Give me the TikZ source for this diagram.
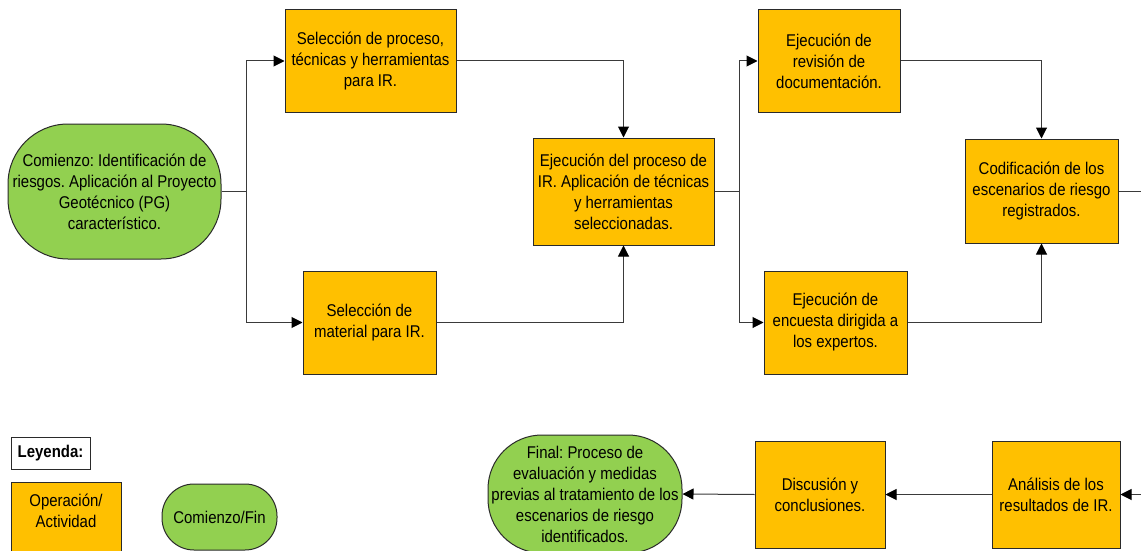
\documentclass[tikz,border=0pt]{standalone}
\usepackage{fontspec}
\setmainfont{Liberation Sans}[FakeStretch=0.88]
\usetikzlibrary{arrows.meta}
\frenchspacing
\definecolor{opfill}{HTML}{FFC000}
\definecolor{endfill}{HTML}{92D050}
\definecolor{edge}{HTML}{2A2A2A}
\definecolor{wire}{HTML}{3A3A3A}
\tikzset{
  base/.style={draw=edge, line width=1pt, inner sep=0pt, align=center,
               font=\fontsize{17}{21}\selectfont},
  opbox/.style={base, rectangle, fill=opfill},
  endbox/.style={base, rectangle, fill=endfill},
  legbox/.style={base, rectangle, fill=white, font=\fontsize{17}{21}\selectfont\bfseries},
  wireline/.style={draw=wire, line width=1pt},
  arr/.style={wireline, -{Triangle[length=11pt,width=11pt,fill=black,color=black]}},
}
\begin{document}
\begin{tikzpicture}[x=1pt,y=-1pt]
\clip (0,0) rectangle (1141,551);
\fill[white] (0,0) rectangle (1141,551);

% start / end terminals
\node[endbox, minimum width=213pt, minimum height=135pt, rounded corners=60pt] (com) at (114.5,191.5)
  {Comienzo: Identificación de\\riesgos. Aplicación al Proyecto\\Geotécnico (PG)\\característico.};
\node[endbox, minimum width=194pt, minimum height=118pt, rounded corners=54pt] (fin) at (585,494)
  {Final: Proceso de\\evaluación y medidas\\previas al tratamiento de los\\escenarios de riesgo\\identificados.};

% operations
\node[opbox, minimum width=171pt, minimum height=102pt] (sel1) at (370.5,61)
  {Selección de proceso,\\técnicas y herramientas\\para IR.};
\node[opbox, minimum width=133pt, minimum height=103pt] (sel2) at (369.5,322.5)
  {Selección de\\material para IR.};
\node[opbox, minimum width=181pt, minimum height=107pt] (ejec) at (623.5,191.5)
  {Ejecución del proceso de\\IR. Aplicación de técnicas\\y herramientas\\seleccionadas.};
\node[opbox, minimum width=142pt, minimum height=102pt] (rev) at (829,61)
  {Ejecución de\\revisión de\\documentación.};
\node[opbox, minimum width=143pt, minimum height=103pt] (enc) at (835.5,322.5)
  {Ejecución de\\encuesta dirigida a\\los expertos.};
\node[opbox, minimum width=153pt, minimum height=104pt] (cod) at (1041.5,191)
  {Codificación de los\\escenarios de riesgo\\registrados.};
\node[opbox, minimum width=128pt, minimum height=107pt] (ana) at (1056,494.5)
  {Análisis de los\\resultados de IR.};
\node[opbox, minimum width=130pt, minimum height=107pt] (disc) at (820,494.5)
  {Discusión y\\conclusiones.};

% legend
\node[legbox, minimum width=79pt, minimum height=32pt] (ley) at (50.5,453) {Leyenda:};
\node[opbox, minimum width=110pt, minimum height=72pt, text depth=14pt] (lop) at (66,518)
  {Operación/\\Actividad};
\node[endbox, minimum width=115pt, minimum height=66pt, rounded corners=32pt] (lcf) at (219.5,517)
  {Comienzo/Fin};

% connectors
\coordinate (b1) at (246,191.5);
\draw[wireline] (com.east) -- (b1);
\draw[arr] (b1) |- (sel1.west);
\draw[arr] (b1) |- (sel2.west);
\draw[arr] (sel1.east) -| (ejec.north);
\draw[arr] (sel2.east) -| (ejec.south);

\coordinate (b2) at (739,191.5);
\draw[wireline] (ejec.east) -- (b2);
\draw[arr] (b2) |- (rev.west);
\draw[arr] (b2) |- (enc.west);
\draw[arr] (rev.east) -| (cod.north);
\draw[arr] (enc.east) -| (cod.south);

\coordinate (outR) at (1141,191);
\draw[wireline] (cod.east) -- (outR);
\coordinate (inR) at (1141,494.5);
\draw[arr] (inR) -- (ana.east);
\draw[arr] (ana.west) -- (disc.east);
\draw[arr] (disc.west) -- (fin.east);
\end{tikzpicture}
\end{document}
